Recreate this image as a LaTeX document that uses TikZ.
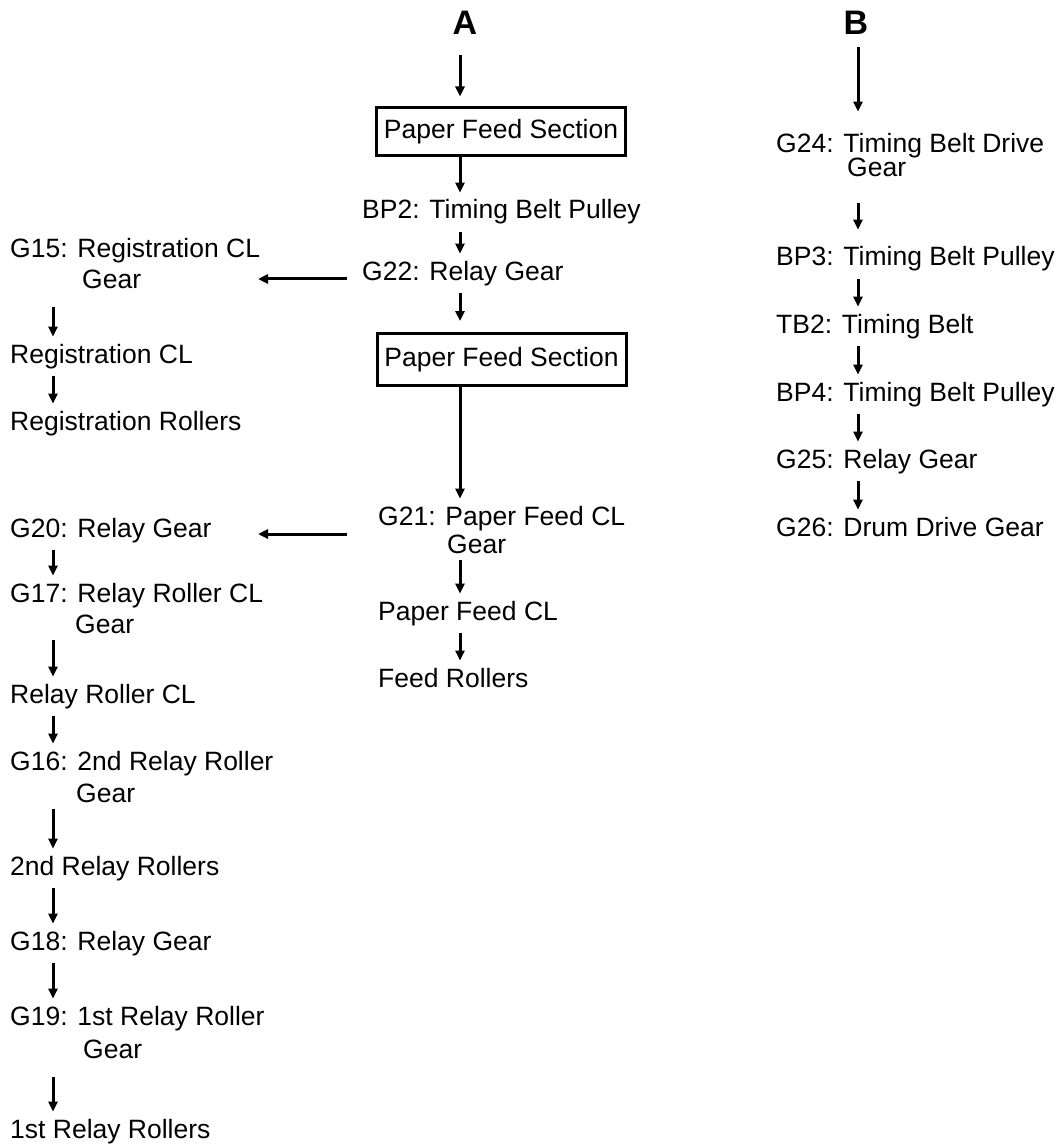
\documentclass[tikz,border=0pt]{standalone}
\usepackage{fontspec}
\setmainfont{Liberation Sans}
\usetikzlibrary{arrows.meta}
\tikzset{
    lbl/.style={anchor=base west, inner xsep=0pt, inner ysep=7pt, align=left,
        font=\fontsize{26.5}{31}\selectfont},
    head/.style={anchor=base, inner sep=0pt, font=\bfseries\fontsize{34}{40}\selectfont},
    sect/.style={draw, line width=3pt, minimum width=249pt, inner sep=0pt,
        font=\fontsize{26.5}{31}\selectfont},
    arr/.style={line width=3pt, -{Triangle[length=10pt,width=9pt]}},
}
\begin{document}
\begin{tikzpicture}[x=1pt, y=-1pt]
    \useasboundingbox (0,0) rectangle (1064,1147);
    % 各列箭头所在位置
    \coordinate (colA) at (460,0);
    \coordinate (colL) at (53,0);
    \coordinate (colB) at (858,0);
    \coordinate (tipL) at (258,0);

    % 标题
    \node[head] (A) at (465,35) {A};
    \node[head] (B) at (856,35) {B};

    % A 列 (两行的结点以第二行基线定位)
    \node[sect, minimum height=48pt] (pfs1) at (501,132) {Paper Feed Section};
    \node[lbl] (bp2) at (362,219) {BP2: Timing Belt Pulley};
    \node[lbl] (g22) at (362,280) {G22: Relay Gear};
    \node[sect, minimum height=52pt] (pfs2) at (501.5,359.5) {Paper Feed Section};
    \node[lbl] (g21) at (378,553) {G21: Paper Feed CL\\[-3pt]\hspace*{69pt}Gear};
    \node[lbl] (pfcl) at (378,620) {Paper Feed CL};
    \node[lbl] (feed) at (378,687) {Feed Rollers};

    % 左列
    \node[lbl] (g15) at (10,288) {G15: Registration CL\\\hspace*{72pt}Gear};
    \node[lbl] (regcl) at (10,363) {Registration CL};
    \node[lbl] (regr) at (10,430) {Registration Rollers};
    \node[lbl] (g20) at (10,537) {G20: Relay Gear};
    \node[lbl] (g17) at (10,633) {G17: Relay Roller CL\\\hspace*{65pt}Gear};
    \node[lbl] (rrcl) at (10,703) {Relay Roller CL};
    \node[lbl] (g16) at (10,802) {G16: 2nd Relay Roller\\[1pt]\hspace*{66pt}Gear};
    \node[lbl] (rr2) at (10,875) {2nd Relay Rollers};
    \node[lbl] (g18) at (10,950) {G18: Relay Gear};
    \node[lbl] (g19) at (10,1058) {G19: 1st Relay Roller\\[2pt]\hspace*{73pt}Gear};
    \node[lbl] (rr1) at (10,1138) {1st Relay Rollers};

    % B 列
    \node[lbl] (g24) at (776,177) {G24: Timing Belt Drive\\[-7pt]\hspace*{71pt}Gear};
    \node[lbl] (bp3) at (776,266) {BP3: Timing Belt Pulley};
    \node[lbl] (tb2) at (776,333) {TB2: Timing Belt};
    \node[lbl] (bp4) at (776,401) {BP4: Timing Belt Pulley};
    \node[lbl] (g25) at (776,468) {G25: Relay Gear};
    \node[lbl] (g26) at (776,536) {G26: Drum Drive Gear};

    % A 列箭头
    \draw[arr, shorten <=20pt, shorten >=10pt] (A.south -| colA) -- (pfs1.north -| colA);
    \draw[arr] (pfs1.south -| colA) -- (bp2.north -| colA);
    \draw[arr] (bp2.south -| colA) -- (g22.north -| colA);
    \draw[arr, shorten >=11pt] (g22.south -| colA) -- (pfs2.north -| colA);
    \draw[arr] (pfs2.south -| colA) -- (g21.north -| colA);
    \draw[arr] (g21.south -| colA) -- (pfcl.north -| colA);
    \draw[arr] (pfcl.south -| colA) -- (feed.north -| colA);

    % 向左的分支
    \draw[arr] ([xshift=-15pt, yshift=1pt]g22.base west) coordinate (h1) -- (tipL |- h1);
    \draw[arr] ([xshift=-31pt, yshift=19pt]g21.base west) coordinate (h2) -- (tipL |- h2);

    % 左列箭头
    \draw[arr, shorten <=12pt] (g15.south -| colL) -- (regcl.north -| colL);
    \draw[arr] (regcl.south -| colL) -- (regr.north -| colL);
    \draw[arr] (g20.south -| colL) -- (g17.north -| colL);
    \draw[arr] (g17.south -| colL) -- (rrcl.north -| colL);
    \draw[arr] (rrcl.south -| colL) -- (g16.north -| colL);
    \draw[arr] (g16.south -| colL) -- (rr2.north -| colL);
    \draw[arr] (rr2.south -| colL) -- (g18.north -| colL);
    \draw[arr] (g18.south -| colL) -- (g19.north -| colL);
    \draw[arr, shorten <=12pt] (g19.south -| colL) -- (rr1.north -| colL);

    % B 列箭头
    \draw[arr, shorten <=12pt, shorten >=15pt] (B.south -| colB) -- (g24.north -| colB);
    \draw[arr, shorten <=19pt, shorten >=10pt] (g24.south -| colB) -- (bp3.north -| colB);
    \draw[arr] (bp3.south -| colB) -- (tb2.north -| colB);
    \draw[arr] (tb2.south -| colB) -- (bp4.north -| colB);
    \draw[arr] (bp4.south -| colB) -- (g25.north -| colB);
    \draw[arr] (g25.south -| colB) -- (g26.north -| colB);
\end{tikzpicture}
\end{document}
